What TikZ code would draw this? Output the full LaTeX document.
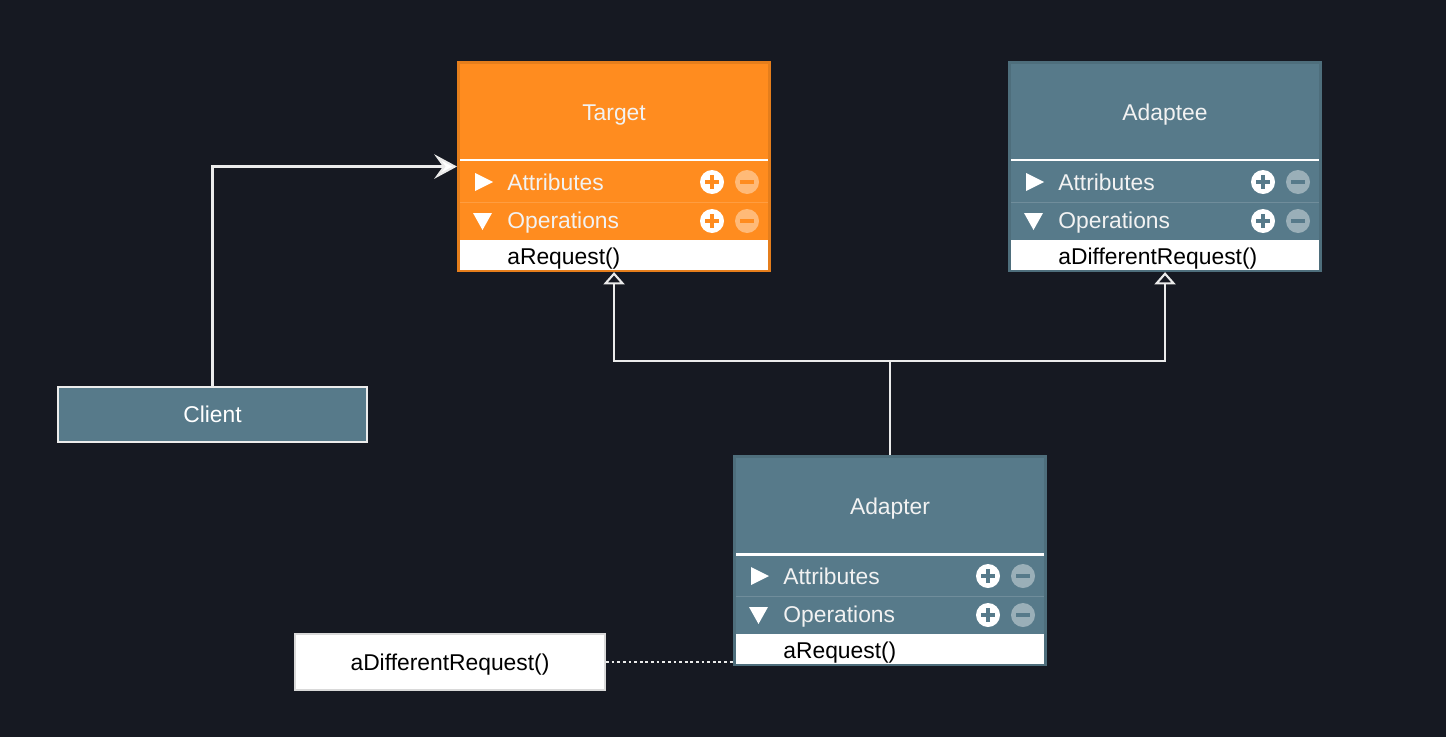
\documentclass[tikz,border=0pt]{standalone}
\usepackage{fontspec}
\setmainfont{Liberation Sans}
\usetikzlibrary{arrows.meta,positioning}
\definecolor{bg}{HTML}{161922}
\definecolor{umlorange}{HTML}{FF8C1F}
\definecolor{umlslate}{HTML}{577A8A}
\tikzset{
  classbox/.style={anchor=north west, minimum width=6.23cm, minimum height=4.17cm, inner sep=0pt, line width=1.5pt},
  titletext/.style={anchor=base, inner sep=0pt, text=white!95!black, font=\fontsize{13}{15}\selectfont},
  rowtext/.style={anchor=base west, inner sep=0pt, text=white!95!black, font=\fontsize{13}{15}\selectfont},
  optext/.style={anchor=base west, inner sep=0pt, text=black, font=\fontsize{13}{15}\selectfont},
  simplebox/.style={minimum width=6.18cm, minimum height=1.1cm, inner sep=0pt, text depth=0pt, line width=1.2pt, font=\fontsize{13}{15}\selectfont},
  link/.style={draw=white!92!black, line width=1.2pt},
  assoc/.style={link, -{Stealth[length=13pt, width=14pt, inset=5pt, fill=white]}},
  inherit/.style={link, -{Triangle[fill=bg, length=7pt, width=12pt]}},
  dotline/.style={link, dash pattern=on 1.6pt off 1.6pt},
}
% plus and minus buttons of a row
\newcommand{\rowicons}[3]{%
  \fill[white] (#1,#2) circle[radius=12];
  \draw[#3, line width=1.8pt] (#1,#2) +(-7,0) -- +(7,0) +(0,-7) -- +(0,7);
  \fill[white, opacity=0.4] (#1+35,#2) circle[radius=12];
  \draw[#3, line width=1.8pt] (#1+35,#2) +(-7,0) -- +(7,0);
}
% name, left, top, colour, title, operation
\newcommand{\umlclass}[6]{%
  \node[classbox, fill=#4, draw=#4!90!black] (#1) at (#2,#3) {};
  \begin{scope}[shift={(#2,#3)}]
    \node[titletext] (#1-title) at (157,59) {#5};
    \draw[white, line width=1.7pt] (3,99) -- (311,99);
    \draw[white, opacity=0.15, line width=0.5pt] (3,141) -- (311,141);
    \fill[white] (18,112) -- (36,121) -- (18,130) -- cycle;
    \node[rowtext] (#1-attr) at (50,129) {Attributes};
    \fill[white] (16,152) -- (35,152) -- (25.5,169) -- cycle;
    \node[rowtext] (#1-ops) at (50,167) {Operations};
    \rowicons{255}{121}{#4}
    \rowicons{255}{160}{#4}
    \fill[white] (3,179) rectangle (311,209);
    \node[optext] (#1-op) at (50,203) {#6};
  \end{scope}}

\begin{document}
\begin{tikzpicture}[x=0.02cm, y=-0.02cm]
\fill[bg] (0,0) rectangle (1446,737);
% classes
\umlclass{target}{457}{61}{umlorange}{Target}{aRequest()}
\umlclass{adaptee}{1008}{61}{umlslate}{Adaptee}{aDifferentRequest()}
\umlclass{adapter}{733}{455}{umlslate}{Adapter}{aRequest()}
% client and note
\node[simplebox, fill=umlslate, draw=white!85!gray, text=white] (client) at (212.5,414.5) {Client};
\node[simplebox, minimum width=6.2cm, minimum height=1.12cm, fill=white, draw=gray!30, text=black] (note) at (450,662) {aDifferentRequest()};
% connectors
\draw[assoc] (client.north) |- (target.west);
\coordinate (mid) at (0,361);
\coordinate (join) at (adapter.north |- mid);
\draw[link] (adapter.north) -- (join);
\draw[inherit] (join) -| (target.south);
\draw[inherit] (join) -| (adaptee.south);
\draw[dotline] (note.east) -- (note.east -| adapter.west);
\end{tikzpicture}
\end{document}
